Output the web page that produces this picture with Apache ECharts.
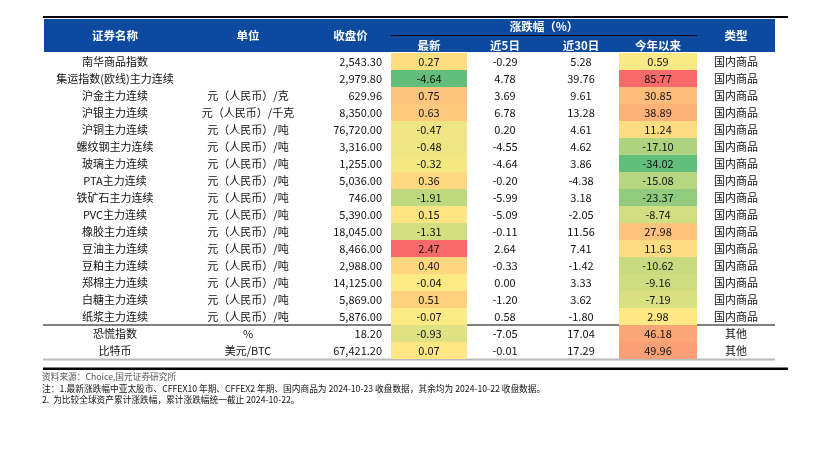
<!DOCTYPE html>
<html><head><meta charset="utf-8">
<script src="https://cdn.jsdelivr.net/npm/echarts@6/dist/echarts.min.js"></script>
<style>html,body{margin:0;padding:0;background:#fff}#c{width:838px;height:469px}</style>
</head><body><div id="c"></div>
<script>
const names = ['南华商品指数','集运指数(欧线)主力连续','沪金主力连续','沪银主力连续','沪铜主力连续','螺纹钢主力连续','玻璃主力连续','PTA主力连续','铁矿石主力连续','PVC主力连续','橡胶主力连续','豆油主力连续','豆粕主力连续','郑棉主力连续','白糖主力连续','纸浆主力连续','恐慌指数','比特币'];
const units = ['','','元（人民币）/克','元（人民币）/千克','元（人民币）/吨','元（人民币）/吨','元（人民币）/吨','元（人民币）/吨','元（人民币）/吨','元（人民币）/吨','元（人民币）/吨','元（人民币）/吨','元（人民币）/吨','元（人民币）/吨','元（人民币）/吨','元（人民币）/吨','%','美元/BTC'];
const closePrice = [2543.30,2979.80,629.96,8350.00,76720.00,3316.00,1255.00,5036.00,746.00,5390.00,18045.00,8466.00,2988.00,14125.00,5869.00,5876.00,18.20,67421.20];
const chgLatest = [0.27,-4.64,0.75,0.63,-0.47,-0.48,-0.32,0.36,-1.91,0.15,-1.31,2.47,0.40,-0.04,0.51,-0.07,-0.93,0.07];
const chg5d = [-0.29,4.78,3.69,6.78,0.20,-4.55,-4.64,-0.20,-5.99,-5.09,-0.11,2.64,-0.33,0.00,-1.20,0.58,-7.05,-0.01];
const chg30d = [5.28,39.76,9.61,13.28,4.61,4.62,3.86,-4.38,3.18,-2.05,11.56,7.41,-1.42,3.33,3.62,-1.80,17.04,17.29];
const chgYtd = [0.59,85.77,30.85,38.89,11.24,-17.10,-34.02,-15.08,-23.37,-8.74,27.98,11.63,-10.62,-9.16,-7.19,2.98,46.18,49.96];
const types = ['国内商品','国内商品','国内商品','国内商品','国内商品','国内商品','国内商品','国内商品','国内商品','国内商品','国内商品','国内商品','国内商品','国内商品','国内商品','国内商品','其他','其他'];
const headers = ['证券名称','单位','收盘价','最新','近5日','近30日','今年以来','类型'];
const groupHeader = '涨跌幅（%）';
const notes = ['资料来源：Choice,国元证券研究所',
 '注：1.最新涨跌幅中亚太股市、CFFEX10 年期、CFFEX2 年期、国内商品为 2024-10-23 收盘数据，其余均为 2024-10-22 收盘数据。',
 '2.  为比较全球资产累计涨跌幅，累计涨跌幅统一截止 2024-10-22。'];

// layout (column edges relative to table left)
const colEdges = [0,142,266,347,423,499,575,653,731];
const TL = 44, TR = 775;
const FONT = '"Noto Sans CJK SC","Noto Sans",sans-serif';
const BLUE = '#0B4A9F';

function median(a){const s=[...a].sort((x,y)=>x-y);const n=s.length;return n%2?s[(n-1)/2]:(s[n/2-1]+s[n/2])/2;}
function lerp(c1,c2,t){return 'rgb('+c1.map((v,i)=>Math.round(v+(c2[i]-v)*t)).join(',')+')';}
const G=[99,190,123],Y=[255,235,132],R=[248,105,107];
function scale3(arr){
  const mn=Math.min(...arr),mx=Math.max(...arr),md=median(arr);
  return arr.map(v=>v<=md?lerp(G,Y,(v-mn)/(md-mn)):lerp(Y,R,(v-md)/(mx-md)));
}
const colLatest = scale3(chgLatest), colYtd = scale3(chgYtd);
const fmt = v => v.toLocaleString('en-US',{minimumFractionDigits:2,maximumFractionDigits:2});

const rows = names.map((n,i)=>[i, closePrice[i], chgLatest[i], chg5d[i], chg30d[i], chgYtd[i]]);

function renderItem(params, api){
  const r = api.value(0);
  const yc = api.coord([0, r])[1];
  const h = api.size([0, 1])[1];
  const X = v => api.coord([v, r])[0];
  const ch = [];
  ch.push({type:'rect',shape:{x:X(colEdges[3]),y:yc-h/2,width:X(colEdges[4])-X(colEdges[3]),height:h},style:{fill:colLatest[r]}});
  ch.push({type:'rect',shape:{x:X(colEdges[6]),y:yc-h/2,width:X(colEdges[7])-X(colEdges[6]),height:h},style:{fill:colYtd[r]}});
  const txt=(s,x,align)=>({type:'text',style:{text:s,x:x,y:yc+0.5,align:align,verticalAlign:'middle',font:'11px '+FONT,fill:'#111'}});
  const mid=c=>(X(colEdges[c])+X(colEdges[c+1]))/2;
  ch.push(txt(names[r],mid(0),'center'));
  ch.push(txt(units[r],mid(1),'center'));
  ch.push(txt(fmt(api.value(1)),X(colEdges[3])-9,'right'));
  ch.push(txt(fmt(api.value(2)),mid(3),'center'));
  ch.push(txt(fmt(api.value(3)),mid(4),'center'));
  ch.push(txt(fmt(api.value(4)),mid(5),'center'));
  ch.push(txt(fmt(api.value(5)),mid(6),'center'));
  ch.push(txt(types[r],mid(7),'center'));
  return {type:'group',children:ch};
}

const hx = c => TL + (colEdges[c]+colEdges[c+1])/2;
const graphics = [
  {type:'rect',shape:{x:TL,y:19,width:TR-TL,height:33},style:{fill:BLUE}},
  {type:'rect',shape:{x:43,y:16,width:745,height:2},style:{fill:'#000'}},
  {type:'line',shape:{x1:TL+colEdges[3],y1:35.5,x2:TL+colEdges[7],y2:35.5},style:{stroke:'#000',lineWidth:1}},
  {type:'text',style:{text:groupHeader,x:(TL+colEdges[3]+TL+colEdges[7])/2,y:27,align:'center',verticalAlign:'middle',font:'bold 11.5px '+FONT,fill:'#fff'}},
  {type:'line',shape:{x1:43,y1:325,x2:TR,y2:325},style:{stroke:'#555',lineWidth:1.5}},
  {type:'line',shape:{x1:43,y1:359.5,x2:TR,y2:359.5},style:{stroke:'#bbb',lineWidth:2}},
  {type:'rect',shape:{x:43,y:367.5,width:745,height:2.5},style:{fill:'#000'}}
];
headers.forEach((h,i)=>{
  const sub = i>=3 && i<=6;
  graphics.push({type:'text',style:{text:h,x:hx(i),y:sub?46:36,align:'center',verticalAlign:'middle',font:'bold 11.5px '+FONT,fill:'#fff'}});
});
notes.forEach((t,i)=>{
  graphics.push({type:'text',style:{text:t,x:42,y:377+i*11.5,align:'left',verticalAlign:'middle',font:'8.7px '+FONT,fill:i===0?'#555':'#111'}});
});

const chart = echarts.init(document.getElementById('c'), null, {renderer:'canvas'});
chart.setOption({
  animation:false,
  backgroundColor:'#fff',
  grid:{left:TL,top:53,width:TR-TL,height:306},
  xAxis:{type:'value',min:0,max:colEdges[colEdges.length-1],show:false},
  yAxis:{type:'category',data:names,inverse:true,show:false},
  series:[{type:'custom',renderItem:renderItem,data:rows,encode:{x:-1,y:0},clip:false}],
  graphic:graphics
});
</script></body></html>
